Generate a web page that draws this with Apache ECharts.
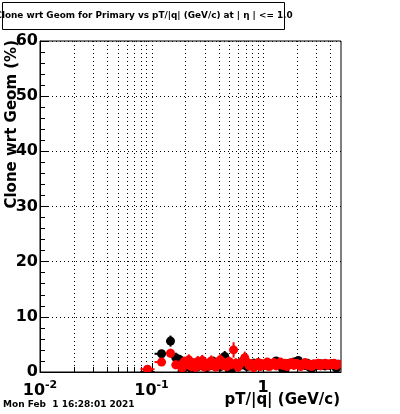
<!DOCTYPE html>
<html><head><meta charset="utf-8">
<script src="https://cdn.jsdelivr.net/npm/echarts@6/dist/echarts.min.js"></script>
<style>html,body{margin:0;padding:0;background:#fff}#c{width:400px;height:414px}</style>
</head><body><div id="c"></div>
<script>
const ptBins = [0.092, 0.123, 0.148, 0.165,
  0.180, 0.188, 0.197, 0.207, 0.216, 0.227, 0.237, 0.248, 0.260, 0.272, 0.285, 0.299, 0.313, 0.328, 0.343, 0.359, 0.376, 0.394, 0.413, 0.432,
  0.453, 0.474, 0.496, 0.520, 0.544, 0.570, 0.597, 0.625, 0.655, 0.685, 0.718, 0.752, 0.787, 0.824, 0.863, 0.904, 0.946, 0.991,
  1.04, 1.09, 1.14, 1.19, 1.25, 1.31, 1.37, 1.43, 1.50, 1.57, 1.64, 1.72, 1.80, 1.89, 1.98, 2.07, 2.17, 2.27, 2.38, 2.49, 2.61, 2.73,
  2.86, 3.00, 3.14, 3.28, 3.44, 3.60, 3.77, 3.95, 4.14, 4.33, 4.54, 4.75];
const blackVals = [0, 3.3, 5.6, 2.6,
  2.2, 0.2, 1.5, 1.1, 1.8, 0.6, 1.3, 1.5, 1.0, 1.7, 1.2, 1.4, 0.8, 1.6, 1.3, 1.9, 1.1, 1.4, 1.0, 1.6,
  2.8, 1.3, 0.5, 0.3, 1.2, 1.5, 1.1, 1.7, 1.3, 1.5, 1.0, 1.4, 1.2, 1.6, 1.1, 1.3, 1.5, 1.2,
  1.4, 1.1, 1.6, 1.3, 1.5, 2.0, 1.4, 1.2, 0.5, 0.4, 1.3, 1.6, 1.4, 1.8, 1.5, 2.1, 1.3, 1.5, 1.2, 1.6, 0.9, 0.6,
  1.3, 1.4, 1.2, 1.5, 1.3, 1.1, 1.4, 1.2, 1.5, 1.3, 0.7, 1.4];
const blackErrs = [0, 0.7, 1.0, 0.9,
  0.9, 0.4, 0.9, 0.9, 0.9, 0.7, 0.9, 0.9, 0.9, 0.9, 0.9, 0.9, 0.8, 0.9, 0.9, 0.9, 0.9, 0.9, 0.9, 0.9,
  1.0, 0.9, 0.6, 0.5, 0.8, 0.8, 0.8, 0.8, 0.8, 0.8, 0.8, 0.8, 0.8, 0.8, 0.7, 0.7, 0.7, 0.7,
  0.7, 0.7, 0.7, 0.7, 0.7, 0.7, 0.7, 0.6, 0.5, 0.4, 0.6, 0.6, 0.6, 0.6, 0.6, 0.6, 0.6, 0.6, 0.5, 0.5, 0.5, 0.5,
  0.5, 0.5, 0.5, 0.5, 0.5, 0.5, 0.5, 0.5, 0.5, 0.5, 0.4, 0.5];
const redVals = [0.5, 1.8, 3.4, 1.3,
  1.2, 0.7, 1.9, 1.4, 2.2, 1.0, 1.6, 0.8, 1.9, 1.3, 2.1, 0.9, 1.5, 1.1, 2.0, 1.4, 0.9, 1.8, 2.2, 1.2,
  1.6, 1.0, 1.9, 1.4, 4.0, 1.6, 0.9, 1.5, 2.0, 2.6, 1.8, 1.1, 1.5, 0.8, 1.4, 1.7, 1.0, 1.5,
  1.2, 1.8, 1.0, 1.4, 1.7, 1.1, 1.5, 1.8, 1.2, 1.6, 1.0, 1.5, 1.7, 1.2, 1.6, 1.4, 1.0, 1.5, 1.7, 1.2, 1.4, 1.0,
  1.5, 1.3, 1.6, 1.1, 1.4, 1.6, 1.2, 1.5, 1.3, 1.6, 1.2, 1.4];
const redErrs = [0.4, 0.6, 0.8, 0.8,
  0.9, 0.8, 0.9, 0.9, 1.0, 0.9, 0.9, 0.8, 1.0, 0.9, 1.0, 0.8, 0.9, 0.9, 1.0, 0.9, 0.8, 0.9, 1.0, 0.9,
  0.9, 0.8, 0.9, 0.9, 1.4, 0.9, 0.8, 0.9, 0.9, 1.1, 0.9, 0.8, 0.8, 0.7, 0.8, 0.8, 0.7, 0.7,
  0.7, 0.7, 0.6, 0.7, 0.7, 0.6, 0.6, 0.7, 0.6, 0.6, 0.6, 0.6, 0.6, 0.6, 0.6, 0.6, 0.5, 0.6, 0.6, 0.5, 0.5, 0.5,
  0.5, 0.5, 0.5, 0.5, 0.5, 0.5, 0.5, 0.5, 0.5, 0.5, 0.5, 0.5];
const xGridValues = [0.02, 0.03, 0.04, 0.05, 0.06, 0.07, 0.08, 0.09, 0.1, 0.2, 0.3, 0.4, 0.5, 0.6, 0.7, 0.8, 0.9, 1, 2, 3, 4];
const xMajorValues = [0.1, 1];
const titleText = 'Clone wrt Geom for Primary vs pT/|q| (GeV/c) at | \u03b7 | <= 1.0';
const xTitle = 'pT/|q| (GeV/c)';
const yTitle = 'Clone wrt Geom (%)';
const dateText = 'Mon Feb  1 16:28:01 2021';

const FONT = 'DejaVu Sans';

function binData(vals, errs) {
  return ptBins.map((p, i) => {
    let hi, lo;
    if (i < ptBins.length - 1) hi = Math.sqrt(p * ptBins[i + 1]); else hi = p * p / Math.sqrt(p * ptBins[i - 1]);
    if (i > 0) lo = Math.sqrt(p * ptBins[i - 1]); else lo = p * p / hi;
    return [p, vals[i], errs[i], lo, hi];
  });
}

function errRender(color) {
  return function (params, api) {
    const x = api.value(0), y = api.value(1), e = api.value(2), lo = api.value(3), hi = api.value(4);
    const c = api.coord([x, y]);
    const top = api.coord([x, y + e]);
    const bot = api.coord([x, Math.max(0, y - e)]);
    const l = api.coord([lo, y]);
    const r = api.coord([hi, y]);
    return {
      type: 'group', children: [
        { type: 'line', shape: { x1: c[0], y1: top[1], x2: c[0], y2: bot[1] }, style: { stroke: color, lineWidth: 2 } },
        { type: 'line', shape: { x1: l[0], y1: c[1], x2: r[0], y2: c[1] }, style: { stroke: color, lineWidth: 2 } },
        { type: 'circle', shape: { cx: c[0], cy: c[1], r: 4.5 }, style: { fill: color } }
      ]
    };
  };
}

function gridRender(params, api) {
  const v = api.value(0);
  const b = api.coord([v, 0]);
  const t = api.coord([v, 60]);
  const major = xMajorValues.indexOf(v) >= 0;
  const x = Math.round(b[0]) + 0.5;
  return {
    type: 'group', children: [
      { type: 'line', shape: { x1: x, y1: t[1], x2: x, y2: b[1] }, style: { stroke: '#000', lineWidth: 1, lineDash: [1, 3] } },
      { type: 'line', shape: { x1: x, y1: b[1], x2: x, y2: b[1] - (major ? 9 : 5) }, style: { stroke: '#000', lineWidth: 1 } }
    ]
  };
}

const chart = echarts.init(document.getElementById('c'), null, { renderer: 'canvas' });
chart.setOption({
  animation: false,
  backgroundColor: '#fff',
  grid: { left: 40, top: 41, width: 301, height: 331, show: true, borderColor: '#000', borderWidth: 1, backgroundColor: 'transparent' },
  xAxis: {
    type: 'log', logBase: 10, min: 0.01, max: 5,
    axisLine: { show: true, lineStyle: { color: '#000', width: 1 } },
    axisTick: { show: false },
    splitLine: { show: false },
    axisLabel: {
      showMaxLabel: false, margin: 8, color: '#000',
      fontFamily: FONT, fontWeight: 'bold', fontSize: 16,
      formatter: function (v) {
        const l = Math.log10(v);
        const r = Math.round(l);
        if (Math.abs(l - r) > 1e-6) return '';
        if (r === 0) return '1';
        return '10{s|' + r + '}';
      },
      rich: { s: { fontFamily: FONT, fontWeight: 'bold', fontSize: 11, verticalAlign: 'top', padding: [0, 0, 10, 0] } }
    }
  },
  yAxis: {
    type: 'value', min: 0, max: 60, interval: 10,
    axisLine: { show: true, lineStyle: { color: '#000', width: 1 } },
    axisTick: { show: true, inside: true, length: 9, lineStyle: { color: '#000' } },
    minorTick: { show: true, splitNumber: 5, length: 5, lineStyle: { color: '#000' } },
    splitLine: { show: true, lineStyle: { color: '#000', width: 1, type: [1, 3] } },
    axisLabel: { color: '#000', fontFamily: FONT, fontWeight: 'bold', fontSize: 16, margin: 2 }
  },
  series: [
    { type: 'custom', renderItem: gridRender, data: xGridValues.map(v => [v]), silent: true, z: 1 },
    { type: 'custom', renderItem: errRender('#000'), data: binData(blackVals, blackErrs), clip: true, z: 2 },
    { type: 'custom', renderItem: errRender('#ff0000'), data: binData(redVals, redErrs), clip: true, z: 3 }
  ],
  graphic: [
    { type: 'rect', shape: { x: 2.5, y: 2.5, width: 282, height: 27 }, style: { fill: '#fff', stroke: '#000', lineWidth: 1 }, z: 10 },
    { type: 'text', x: 144, y: 16, style: { text: titleText, font: 'bold 8.9px "DejaVu Sans"', fill: '#000', textAlign: 'center', textVerticalAlign: 'middle' }, z: 11 },
    { type: 'text', x: 340, y: 400, style: { text: xTitle, font: 'bold 15px "DejaVu Sans"', fill: '#000', textAlign: 'right', textVerticalAlign: 'middle' }, z: 11 },
    { type: 'text', x: 12, y: 40, rotation: Math.PI / 2, style: { text: yTitle, font: 'bold 15px "DejaVu Sans"', fill: '#000', textAlign: 'right', textVerticalAlign: 'middle' }, z: 11 },
    { type: 'text', x: 3, y: 405, style: { text: dateText, font: 'bold 9px "DejaVu Sans"', fill: '#000', textAlign: 'left', textVerticalAlign: 'middle' }, z: 11 }
  ]
});
</script></body></html>
